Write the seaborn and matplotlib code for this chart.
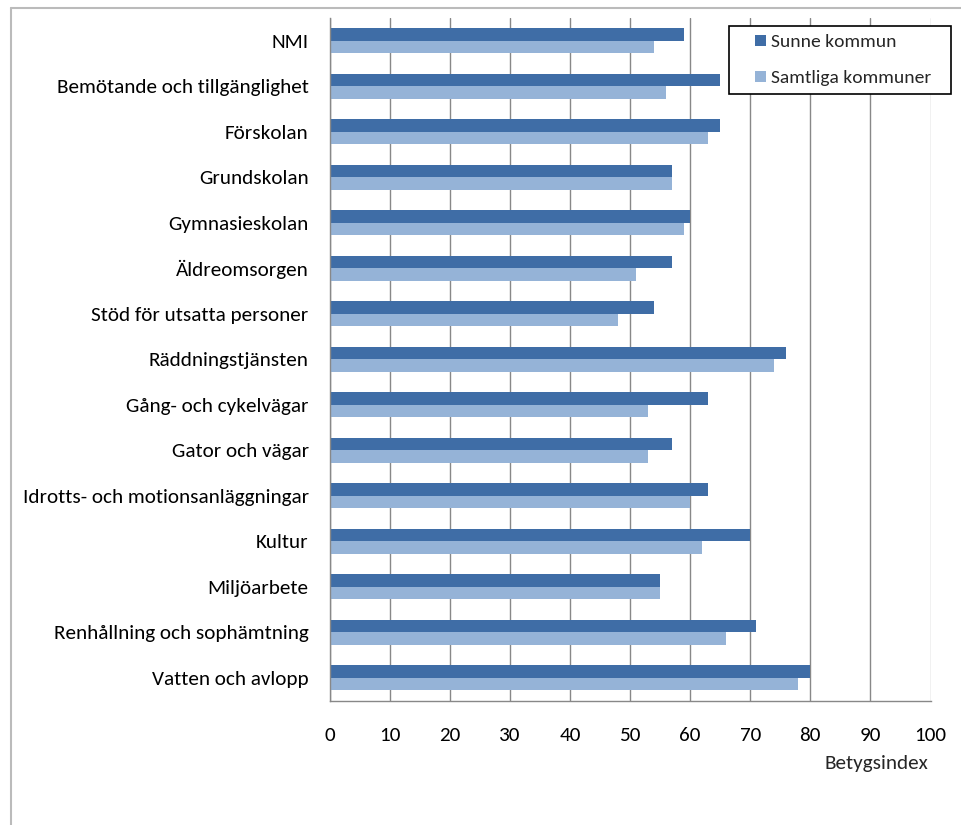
import matplotlib
matplotlib.use("Agg")
import matplotlib.pyplot as plt
from matplotlib import font_manager
from matplotlib.lines import Line2D
from matplotlib.patches import Rectangle
from matplotlib.legend_handler import HandlerPatch
import seaborn as sns
import pandas as pd

categories = ["NMI", "Bemötande och tillgänglighet", "Förskolan", "Grundskolan",
              "Gymnasieskolan", "Äldreomsorgen", "Stöd för utsatta personer",
              "Räddningstjänsten", "Gång- och cykelvägar", "Gator och vägar",
              "Idrotts- och motionsanläggningar", "Kultur", "Miljöarbete",
              "Renhållning och sophämtning", "Vatten och avlopp"]
sunne = [59, 65, 65, 57, 60, 57, 54, 76, 63, 57, 63, 70, 55, 71, 80]
samtliga = [54, 56, 63, 57, 59, 51, 48, 74, 53, 53, 60, 62, 55, 66, 78]
series_names = ["Sunne kommun", "Samtliga kommuner"]
x_ticks = [0, 10, 20, 30, 40, 50, 60, 70, 80, 90, 100]
x_label = "Betygsindex"

df = pd.DataFrame({
    "Kategori": categories * 2,
    "Serie": [series_names[0]] * len(categories) + [series_names[1]] * len(categories),
    "Värde": sunne + samtliga,
})

sns.set_theme(style="white")
available = {f.name for f in font_manager.fontManager.ttflist}
cands = ["Carlito", "Liberation Sans Narrow", "Roboto Condensed", "Open Sans Condensed",
         "PT Sans Narrow", "Archivo Narrow", "Fira Sans Condensed", "Open Sans", "DejaVu Sans"]
fams = [f for f in cands if f in available]
plt.rcParams["font.family"] = fams
FS = 15.2
LFS = 14

fig = plt.figure(figsize=(9.61, 8.25), dpi=100)
W, H = 961, 825
ax = fig.add_axes([329.5 / W, 1 - 700.5 / H, 601 / W, 682.5 / H])

sns.barplot(data=df, y="Kategori", x="Värde", hue="Serie", orient="h",
            palette=["#3F6DA6", "#95B3D7"], width=0.56, gap=0,
            saturation=1, ax=ax, legend=True, linewidth=0)

ax.set_xlim(0, 100)
ax.set_xticks(x_ticks)
ax.set_xticklabels([str(t) for t in x_ticks], fontsize=FS, color="black")
ax.set_yticklabels(categories, fontsize=FS, color="black")
ax.tick_params(axis="x", length=0, pad=19)
ax.tick_params(axis="y", length=0, pad=15)
ax.set_xlabel("")
ax.set_ylabel("")
ax.xaxis.grid(True, color="#888888", linewidth=1)
ax.yaxis.grid(False)
ax.set_axisbelow(True)
gl = ax.get_xgridlines()
gl[-1].set_color("#BBBBBB")
for s in ["top", "right"]:
    ax.spines[s].set_visible(False)
for s in ["left", "bottom"]:
    ax.spines[s].set_color("#888888")
    ax.spines[s].set_linewidth(1)


def square_patch(legend, orig_handle, xdescent, ydescent, width, height, fontsize):
    s = 11 * 72 / 100.0
    return Rectangle((-xdescent + width - s, -ydescent + (height - s) / 2), s, s)


handles, labels = ax.get_legend_handles_labels()
ax.get_legend().remove()
leg = fig.legend(handles, labels, loc="upper left",
                 bbox_to_anchor=(729 / W, 1 - 95 / H, 222 / W, 69.3 / H),
                 mode="expand", borderaxespad=0,
                 fontsize=LFS, frameon=True, fancybox=False, framealpha=1,
                 edgecolor="black", handlelength=1.5, handleheight=0.7,
                 handletextpad=0.26, labelspacing=1.0, borderpad=0.4,
                 handler_map={Rectangle: HandlerPatch(patch_func=square_patch)})
leg.get_frame().set_linewidth(1.2)

fig.text(928 / W, 1 - 763 / H, x_label, ha="right", va="center", fontsize=FS)

fig.add_artist(Line2D([11 / W, 11 / W], [0, 1 - 8 / H], transform=fig.transFigure,
                      color="#BBBBBB", linewidth=1.5))
fig.add_artist(Line2D([11 / W, 1], [1 - 8 / H, 1 - 8 / H], transform=fig.transFigure,
                      color="#BBBBBB", linewidth=1.5))

fig.savefig("out.png", dpi=100)
